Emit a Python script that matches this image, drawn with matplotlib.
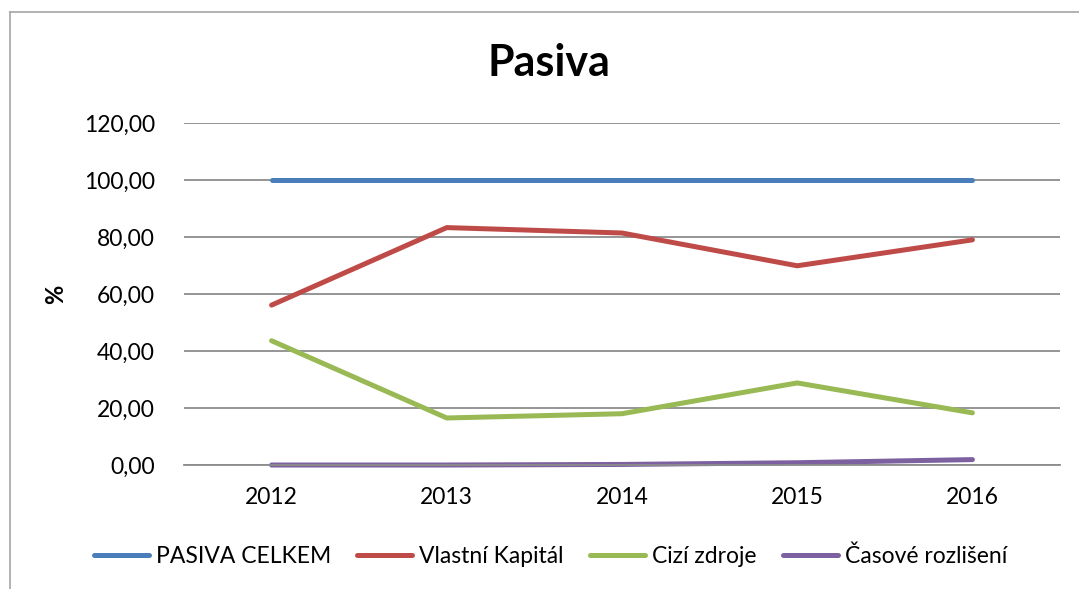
from matplotlib import pyplot as plt
from matplotlib.lines import Line2D
from matplotlib.ticker import FuncFormatter

plt.rcParams['font.family'] = ['Lato', 'DejaVu Sans']

roky = ['2012', '2013', '2014', '2015', '2016']
pasiva_celkem = [100, 100, 100, 100, 100]
vlastni_kapital = [56.1, 83.3, 81.4, 69.9, 79.0]
cizi_zdroje = [43.6, 16.5, 18.0, 28.8, 18.3]
casove_rozliseni = [0.0, 0.0, 0.2, 0.8, 1.9]

nazvy = ['PASIVA CELKEM', 'Vlastní Kapitál', 'Cizí zdroje', 'Časové rozlišení']
barvy = ['#4a7ebb', '#be4b48', '#98b954', '#7d60a0']

fig = plt.figure(figsize=(10.79, 5.89), dpi=100)
ax = fig.add_axes([0.1705, 0.2105, 0.8119, 0.5807])

x = range(len(roky))
for serie, nazev, barva in zip([pasiva_celkem, vlastni_kapital, cizi_zdroje, casove_rozliseni], nazvy, barvy):
    ax.plot(x, serie, color=barva, linewidth=3.6, label=nazev, solid_capstyle='round', clip_on=False)

ax.set_xlim(-0.5, len(roky) - 0.5)
ax.set_ylim(0, 120)
ax.set_yticks(range(0, 121, 20))
ax.yaxis.set_major_formatter(FuncFormatter(lambda v, p: f'{v:.2f}'.replace('.', ',')))
ax.set_xticks(list(x))
ax.set_xticklabels(roky)
ax.tick_params(length=0, labelsize=16.5, pad=21)
ax.tick_params(axis='x', pad=16)
ax.grid(axis='y', color='#8c8c8c', linewidth=1.3)
ax.set_axisbelow(True)
for s in ['top', 'right', 'left']:
    ax.spines[s].set_visible(False)
ax.spines['bottom'].set_color('#8c8c8c')
ax.spines['bottom'].set_linewidth(1.3)

ax.set_ylabel('%', fontsize=17, fontweight='bold', labelpad=12)
fig.text(0.509, 0.893, 'Pasiva', fontsize=31, fontweight='bold', ha='center', va='center')

fig.legend(loc='center', bbox_to_anchor=(0.51, 0.055), ncol=4, frameon=False,
           fontsize=16.5, handlelength=2.4, handletextpad=0.3, columnspacing=1.15)

# ramecek grafu
fig.add_artist(Line2D([10 / 1079, 10 / 1079], [0, 1 - 12 / 589], color='#a6a6a6', linewidth=1.2))
fig.add_artist(Line2D([10 / 1079, 1], [1 - 12 / 589, 1 - 12 / 589], color='#a6a6a6', linewidth=1.2))

fig.savefig('out.png', dpi=100)
